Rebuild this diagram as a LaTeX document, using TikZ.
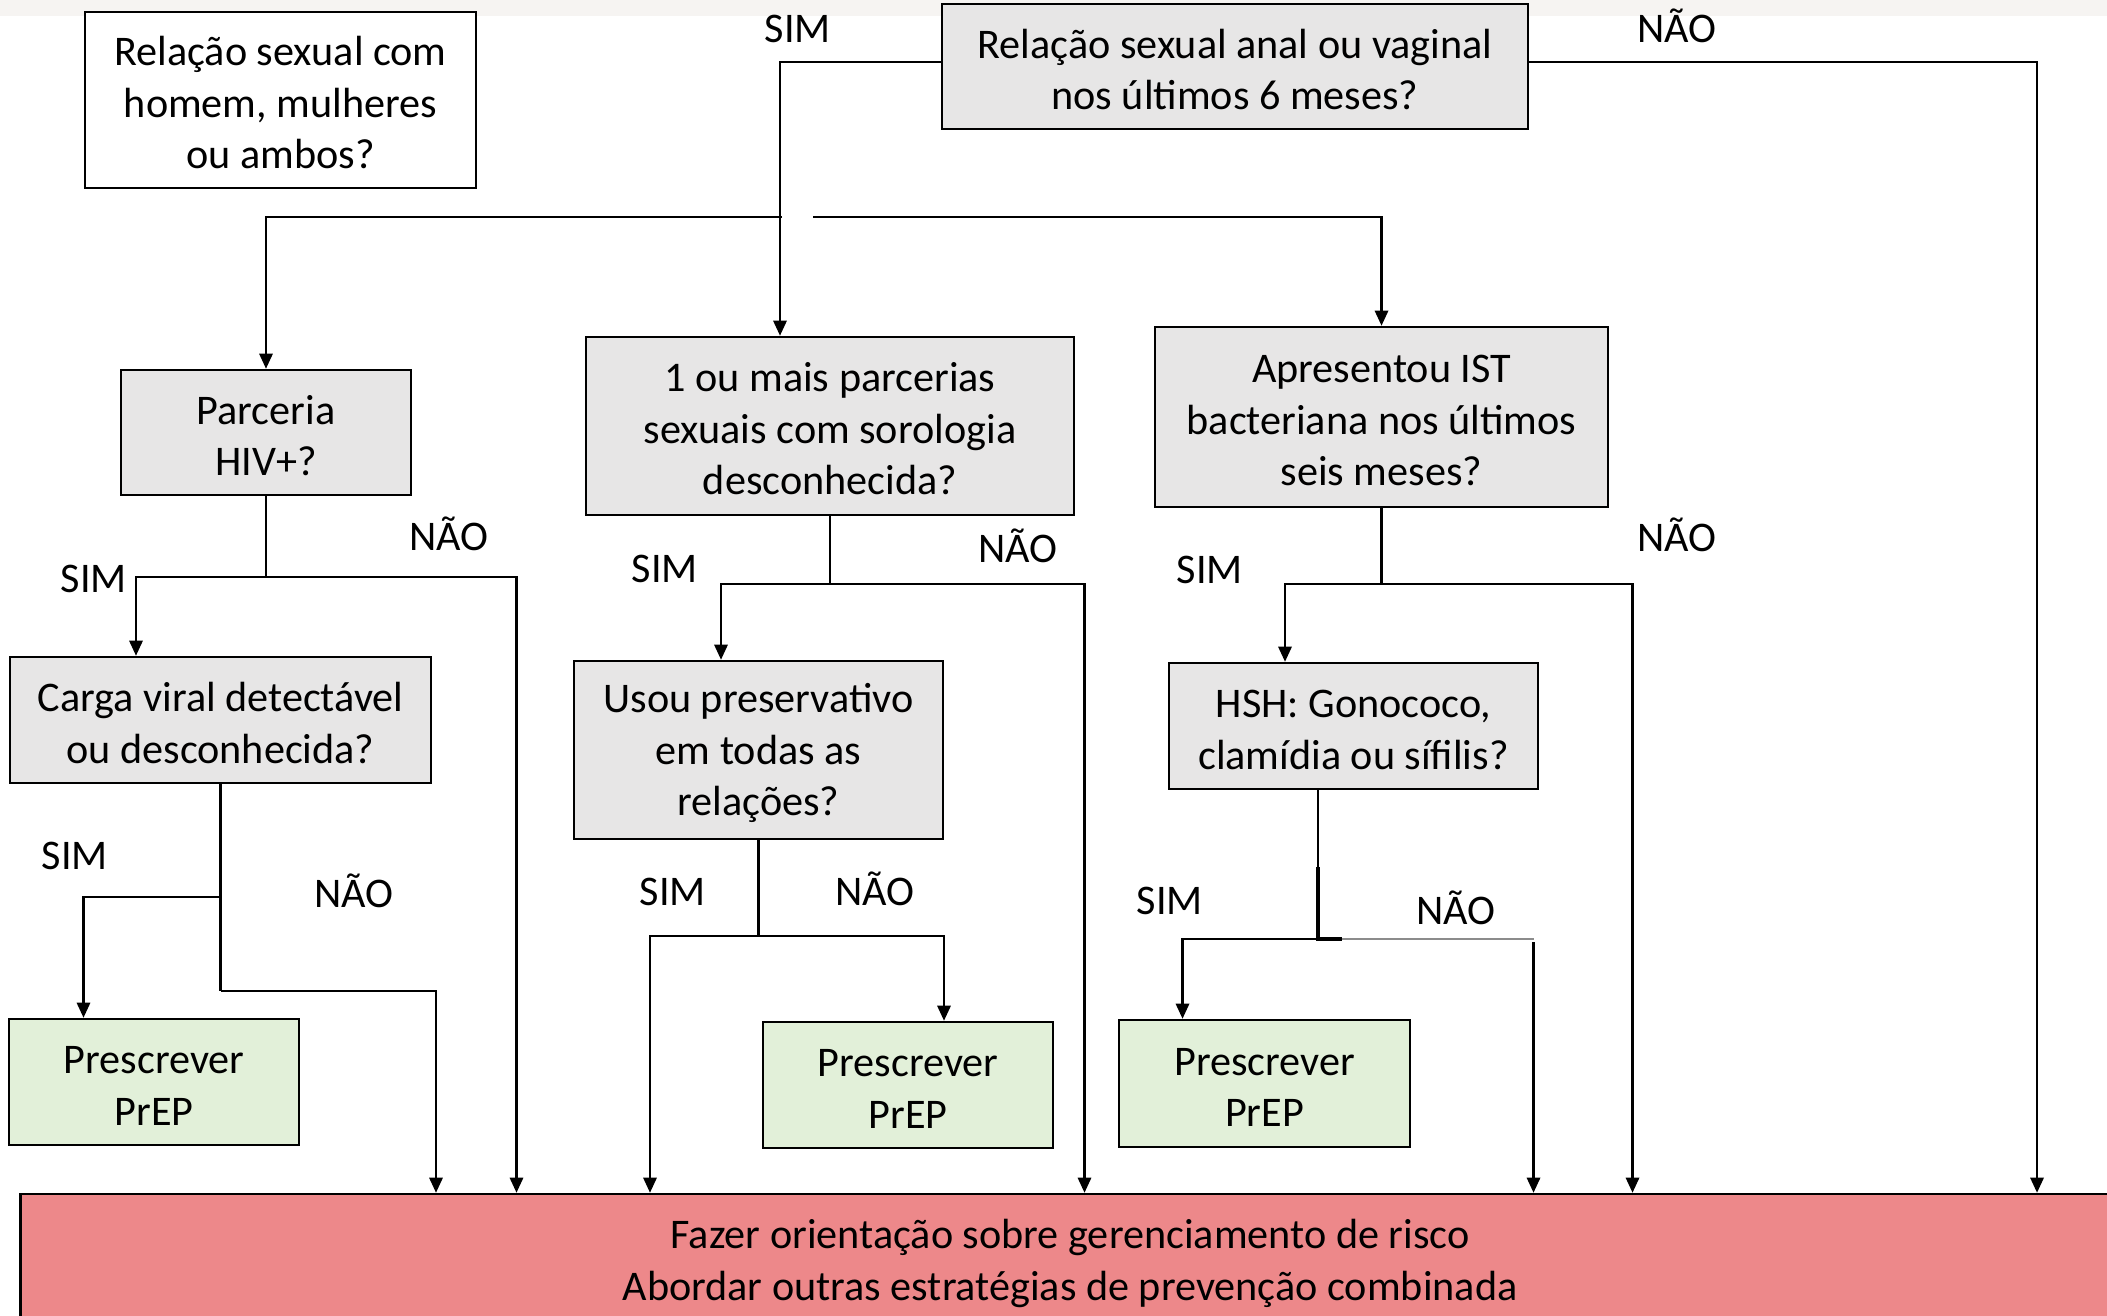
\documentclass[tikz,border=0pt]{standalone}
\usepackage{fontspec}
\setmainfont{Carlito}
\usetikzlibrary{arrows.meta}
\definecolor{qgray}{RGB}{231,230,230}
\definecolor{pgreen}{RGB}{226,240,217}
\definecolor{rred}{RGB}{237,136,138}
\definecolor{bandc}{RGB}{246,244,242}
\newcommand{\fstrut}{\rule{0pt}{10pt}}
\begin{document}
\begin{tikzpicture}[x=0.01cm,y=-0.01cm,
  txt/.style={font=\fontsize{12}{14.65}\selectfont},
  box/.style={txt,draw=black,line width=0.7pt,rectangle,inner sep=0pt,align=center},
  qbox/.style={box,fill=qgray},
  pbox/.style={box,fill=pgreen},
  lbl/.style={txt,inner sep=0pt,anchor=base},
  conn/.style={line width=0.6pt},
  thinconn/.style={line width=0.35pt},
  arr/.style={conn,-{Triangle[length=4.3pt,width=3.8pt]}}]
\clip (0,0) rectangle (2107,1315);
\fill[white] (0,0) rectangle (2107,1315);
\fill[bandc] (0,0) rectangle (2107,16);

% nodes
\node[box,fill=white,minimum width=3.91cm,minimum height=1.76cm] (B0) at (280.5,100) {\fstrut Relação sexual com\\homem, mulheres\\ou ambos?};
\node[qbox,minimum width=5.86cm,minimum height=1.25cm] (B1) at (1235,66.5) {\fstrut Relação sexual anal ou vaginal\\nos últimos 6 meses?};
\node[qbox,minimum width=2.90cm,minimum height=1.25cm] (B2) at (266,432.5) {\fstrut Parceria\\HIV+?};
\node[qbox,minimum width=4.88cm,minimum height=1.78cm] (B3) at (830,426) {\fstrut 1 ou mais parcerias\\sexuais com sorologia\\desconhecida?};
\node[qbox,minimum width=4.53cm,minimum height=1.80cm] (B4) at (1381.5,417) {\fstrut Apresentou IST\\bacteriana nos últimos\\seis meses?};
\node[qbox,minimum width=4.21cm,minimum height=1.26cm] (B5) at (220.5,720) {\fstrut Carga viral detectável\\ou desconhecida?};
\node[qbox,minimum width=3.69cm,minimum height=1.78cm] (B6) at (758.5,750) {\fstrut Usou preservativo\\em todas as\\relações?};
\node[qbox,minimum width=3.69cm,minimum height=1.26cm] (B7) at (1353.5,726) {\fstrut HSH: Gonococo,\\clamídia ou sífilis?};
\node[pbox,minimum width=2.90cm,minimum height=1.26cm] (P1) at (154,1082) {\fstrut Prescrever\\PrEP};
\node[pbox,minimum width=2.90cm,minimum height=1.26cm] (P2) at (908,1085) {\fstrut Prescrever\\PrEP};
\node[pbox,minimum width=2.91cm,minimum height=1.27cm] (P3) at (1264.5,1083.5) {\fstrut Prescrever\\PrEP};
\node[box,fill=rred,minimum width=20.98cm,minimum height=1.39cm] (R) at (1070,1263.5) {Fazer orientação sobre gerenciamento de risco\\Abordar outras estratégias de prevenção combinada};

% coordinates
\coordinate (t1) at (780,62);
\coordinate (t1b) at (780,167);
\coordinate (h1) at (782,217);
\coordinate (h2) at (813,217);
\coordinate (xa) at (2037,0);
\coordinate (j2) at (266,577);
\coordinate (x2l) at (136,0);
\coordinate (x2r) at (516.5,0);
\coordinate (j5a) at (0,897);
\coordinate (j5b) at (0,991);
\coordinate (x5l) at (83.5,0);
\coordinate (x5r) at (436,0);
\coordinate (j3) at (0,584);
\coordinate (x3l) at (721,0);
\coordinate (x3r) at (1084.5,0);
\coordinate (j6) at (0,936);
\coordinate (x6l) at (650,0);
\coordinate (x6r) at (944,0);
\coordinate (j4) at (0,584);
\coordinate (x4l) at (1285,0);
\coordinate (x4r) at (1632.5,0);
\coordinate (x7) at (1318,0);
\coordinate (k7a) at (1318,867);
\coordinate (k7b) at (1318,939);
\coordinate (k7c) at (1342,939);
\coordinate (k7d) at (1533.5,939);
\coordinate (x7l) at (1182.5,0);
\coordinate (x7r) at (1533.5,0);

% top connectors
\draw[thinconn] (B1.west |- t1) -- (t1) -- (t1b);
\draw[arr] (t1b) -- (t1 |- B3.north);
\draw[arr] (h1) -| (B2.north);
\draw[arr] (h2) -| (B4.north);
\draw[arr] (B1.east |- t1) -| (xa |- R.north);

% B2
\draw[conn] (B2.south) -- (j2);
\draw[arr] (j2) -| (x2l |- B5.north);
\draw[arr] (j2) -| (x2r |- R.north);

% B5
\draw[conn] (B5.south) -- (B5.south |- j5b);
\draw[arr] (B5.south |- j5a) -| (x5l |- P1.north);
\draw[arr] (B5.south |- j5b) -| (x5r |- R.north);

% B3
\draw[conn] (B3.south) -- (B3.south |- j3);
\draw[arr] (B3.south |- j3) -| (x3l |- B6.north);
\draw[arr] (B3.south |- j3) -| (x3r |- R.north);

% B6
\draw[conn] (B6.south) -- (B6.south |- j6);
\draw[arr] (B6.south |- j6) -| (x6l |- R.north);
\draw[arr] (B6.south |- j6) -| (x6r |- P2.north);

% B4
\draw[conn] (B4.south) -- (B4.south |- j4);
\draw[arr] (B4.south |- j4) -| (x4l |- B7.north);
\draw[arr] (B4.south |- j4) -| (x4r |- R.north);

% B7
\draw[conn] (x7 |- B7.south) -- (k7a);
\draw[line width=1.2pt] (k7a) -- (k7b) -- (k7c);
\draw[arr] (k7b) -| (x7l |- P3.north);
\draw[line width=0.3pt,black!45] (k7c) -- (k7d);
\draw[arr] ([yshift=-0.03cm]k7d) -- (x7r |- R.north);

% labels
\node[lbl] (s1) at (798,42) {SIM};
\node[lbl] (n1) at (1677,42) {NÃO};
\node[lbl] (s2) at (94,592) {SIM};
\node[lbl] (n2) at (449,550) {NÃO};
\node[lbl] (s5) at (75,869) {SIM};
\node[lbl] (n5) at (354,907) {NÃO};
\node[lbl] (s3) at (665,582) {SIM};
\node[lbl] (n3) at (1018,562) {NÃO};
\node[lbl] (s6) at (673,905) {SIM};
\node[lbl] (n6) at (875,905) {NÃO};
\node[lbl] (s4) at (1210,583) {SIM};
\node[lbl] (n4) at (1677,551) {NÃO};
\node[lbl] (s7) at (1170,914) {SIM};
\node[lbl] (n7) at (1456,924) {NÃO};
\end{tikzpicture}
\end{document}
